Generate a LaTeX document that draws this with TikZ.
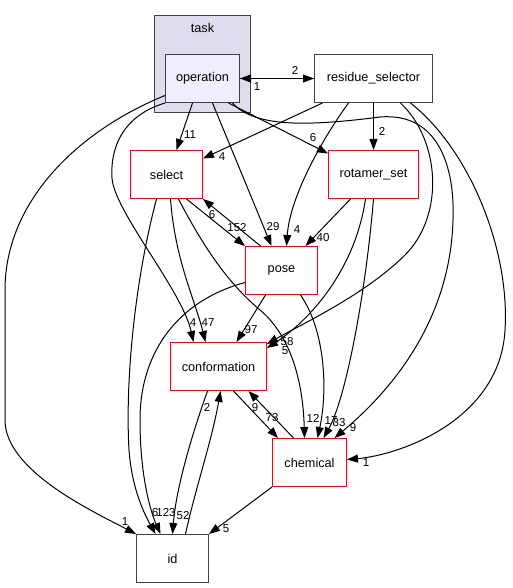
\documentclass[tikz,border=0pt]{standalone}
\usepackage{fontspec}
\setmainfont{Liberation Sans}
\usetikzlibrary{arrows.meta,calc}
\definecolor{clfill}{HTML}{DDDDEE}
\definecolor{opfill}{HTML}{EEEEFF}
\definecolor{bord}{HTML}{404040}
\definecolor{redb}{HTML}{FF0000}
\tikzset{
  box/.style={draw=bord,line width=1pt,fill=white,minimum width=#1,minimum height=48pt,inner sep=0pt,font=\fontsize{12.7}{14}\selectfont},
  redbox/.style={line width=1pt,fill=white,minimum width=#1,minimum height=48pt,inner sep=0pt,font=\fontsize{12.7}{14}\selectfont,draw=redb},
  e/.style={draw=black,line width=1pt,-{Triangle[length=11pt,width=8pt]}},
  lbl/.style={font=\fontsize{11.5}{13}\selectfont,inner sep=0pt}
}
\begin{document}
\begin{tikzpicture}[x=1pt,y=-1pt]
\useasboundingbox (0,0) rectangle (512,588);
% cluster
\node[draw=bord,line width=1pt,fill=clfill,minimum width=96pt,minimum height=97pt,inner sep=0pt] (task) at (202.5,64) {};
\node[font=\fontsize{12.7}{14}\selectfont,inner sep=0pt] (tasklbl) at (202.5,28) {task};
% nodes
\node[box=74pt,fill=opfill] (op) at (202.5,78.5) {operation};
\node[box=118pt] (rs) at (373.5,78.5) {residue\_selector};
\node[redbox=72pt] (sel) at (166.5,174.5) {select};
\node[redbox=90pt] (rot) at (373.5,174.5) {rotamer\_set};
\node[redbox=72pt] (ps) at (281.5,270.5) {pose};
\node[redbox=96pt] (conf) at (218.5,366.5) {conformation};
\node[redbox=74pt] (chem) at (309.5,462.5) {chemical};
\node[box=72pt] (id) at (172.5,558.5) {id};
% edges
\draw[e] (op.east) -- (rs.west);
\draw[e] (rs.west) -- (op.east);
\draw[e] ($(op.south)+(-10,0)$) -- ($(sel.north)+(10,0)$);
\draw[e] ($(rs.south)+(-51,0)$) -- ($(sel.east)+(0,-16)$);
\draw[e] ($(op.south)+(26,0)$) -- ($(rot.west)+(0,-21)$);
\draw[e] ($(op.south)+(10,0)$) -- ($(ps.north)+(-10,0)$);
\draw[e] ($(rs.south)+(-25,0)$) .. controls (325,135) and (290,195) .. ($(ps.north)+(5,0)$);
\draw[e] (rs.south) -- (rot.north);
\draw[e] ($(rot.south)+(-23,0)$) -- ($(ps.north)+(24,0)$);
\draw[e] ($(sel.south)+(20,0)$) -- (ps.north west);
\draw[e] ($(ps.north)+(-21,0)$) -- (sel.south east);
\draw[e] (op.south west) .. controls (125,115) and (110,145) .. (112,178) .. controls (114,211) and (182,290) .. ($(conf.north)+(-25,0)$);
\draw[e] ($(op.west)+(0,17)$) .. controls (80,130) and (5,200) .. (5,290) -- (5,420) .. controls (5,470) and (90,510) .. (id.north west);
\draw[e] ($(rs.south)+(27,0)$) .. controls (440,140) and (445,215) .. (405,255) .. controls (365,295) and (300,325) .. ($(conf.north east)+(0,2)$);
\draw[e] ($(rot.south)+(-8,0)$) .. controls (355,270) and (310,320) .. ($(conf.north east)+(0,6)$);
\draw[e] ($(op.south)+(30,0)$) .. controls (255,128) and (310,126) .. (380,117) .. controls (440,112) and (455,170) .. (453,220) .. controls (450,330) and (380,400) .. ($(chem.north)+(25,0)$);
\draw[e] ($(rs.south)+(37,0)$) .. controls (470,150) and (510,250) .. (505,330) .. controls (500,420) and (400,455) .. ($(chem.east)+(0,-3)$);
\draw[e] ($(sel.south)+(4,0)$) .. controls (175,260) and (195,300) .. ($(conf.north)+(-13,0)$);
\draw[e] ($(sel.south)+(12,0)$) .. controls (205,250) and (230,285) .. (260,310) .. controls (290,335) and (303,380) .. ($(chem.north)+(-5,0)$);
\draw[e] ($(sel.south)+(-10,0)$) .. controls (135,280) and (125,380) .. (129,450) .. controls (132,490) and (145,515) .. ($(id.north)+(-17,0)$);
\draw[e] ($(ps.west)+(0,12)$) .. controls (180,300) and (140,350) .. (140,420) .. controls (140,480) and (152,515) .. ($(id.north)+(-12,0)$);
\draw[e] ($(conf.south)+(-11,0)$) .. controls (190,440) and (176,490) .. (id.north);
\draw[e] ($(id.north)+(13,0)$) .. controls (195,490) and (212,440) .. ($(conf.south)+(2,0)$);
\draw[e] ($(ps.south)+(-16,0)$) -- ($(conf.north)+(18,0)$);
\draw[e] ($(ps.south)+(19,0)$) .. controls (325,330) and (328,390) .. ($(chem.north)+(8,0)$);
\draw[e] (rot.south) .. controls (365,300) and (345,400) .. ($(chem.north)+(14,0)$);
\draw[e] ($(conf.south)+(15,0)$) -- ($(chem.north west)+(6,0)$);
\draw[e] ($(chem.north)+(-16,0)$) -- ($(conf.south)+(30,0)$);
\draw[e] (chem.south west) -- (id.north east);
% labels
\node[lbl] (l1) at (295,70) {2};
\node[lbl] (l2) at (257,87) {1};
\node[lbl] (l3) at (190,135) {11};
\node[lbl] (l4) at (222,157) {4};
\node[lbl] (l5) at (313,138) {6};
\node[lbl] (l6) at (382,131) {2};
\node[lbl] (l7) at (273,227) {29};
\node[lbl] (l8) at (297,230) {4};
\node[lbl] (l9) at (323,238) {40};
\node[lbl] (l10) at (237,228) {152};
\node[lbl] (l11) at (212,215) {6};
\node[lbl] (l12) at (193,323) {4};
\node[lbl] (l13) at (208,323) {47};
\node[lbl] (l14) at (251,330) {97};
\node[lbl] (l15) at (287,342) {58};
\node[lbl] (l16) at (285,351) {5};
\node[lbl] (l17) at (207,407) {2};
\node[lbl] (l18) at (255,408) {9};
\node[lbl] (l19) at (272,418) {73};
\node[lbl] (l20) at (313,418) {12};
\node[lbl] (l21) at (331,421) {17};
\node[lbl] (l22) at (339,423) {33};
\node[lbl] (l23) at (353,428) {9};
\node[lbl] (l24) at (366,463) {1};
\node[lbl] (l25) at (155,513) {6};
\node[lbl] (l26) at (166,513) {123};
\node[lbl] (l27) at (183,516) {52};
\node[lbl] (l28) at (125,522) {1};
\node[lbl] (l29) at (226,529) {5};
\end{tikzpicture}
\end{document}
